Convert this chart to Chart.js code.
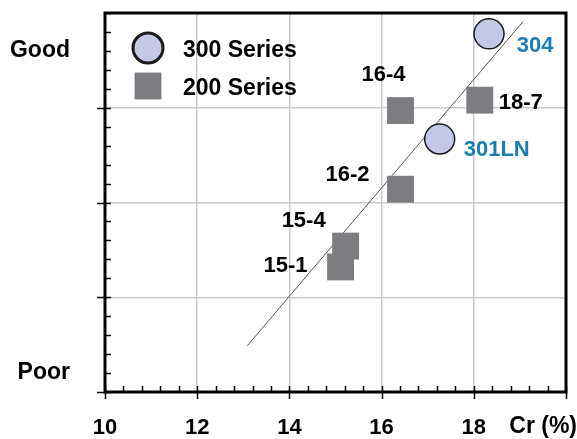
<!DOCTYPE html>
<html>
<head>
<meta charset="utf-8">
<script src="https://cdn.jsdelivr.net/npm/chart.js@4/dist/chart.umd.min.js"></script>
<style>
  html, body { margin: 0; padding: 0; background: #fff; }
  #wrap { width: 577px; height: 439px; }
</style>
</head>
<body>
<div id="wrap"><canvas id="chart" width="577" height="439"></canvas></div>
<script>
// data
const series300Names = ['304', '301LN'];
const series300Cr = [18.33, 17.26];
const series300Rating = [3.78, 2.67];

const series200Names = ['18-7', '16-4', '16-2', '15-4', '15-1'];
const series200Cr = [18.13, 16.41, 16.41, 15.22, 15.11];
const series200Rating = [3.08, 2.97, 2.14, 1.54, 1.32];

const trendCr = [13.09, 19.07];
const trendRating = [0.49, 3.91];

const xTickValues = [10, 12, 14, 16, 18];
const yTickLabels = { 'Good': 3.6, 'Poor': 0.2 };

const FONT = '"Liberation Sans", Arial, sans-serif';
const BLUE = '#1b7db0';

const toPts = (xs, ys) => xs.map((x, i) => ({ x: x, y: ys[i] }));

// label offsets (px) from each point
const labelOffsets300 = [[46, 12], [57, 11]];
const labelOffsets200 = [[41, 3], [-17, -36], [-53, -14], [-42, -25], [-55, -1]];

const framePlugin = {
  id: 'frame',
  afterDatasetsDraw(chart) {
    const ctx = chart.ctx;
    const a = chart.chartArea;
    const xs = chart.scales.x, ys = chart.scales.y;
    ctx.save();

    // minor / major ticks
    ctx.strokeStyle = '#000';
    ctx.lineWidth = 1.5;
    ctx.beginPath();
    for (let i = 0; i <= 20; i++) {
      const v = i * 0.2;
      const py = Math.round(ys.getPixelForValue(v)) + 0.5;
      const major = i % 5 === 0 && i < 20;
      ctx.moveTo(major ? a.left - 8 : a.left, py);
      ctx.lineTo(a.left + 6, py);
    }
    for (let i = 0; i <= 25; i++) {
      const v = 10 + i * 0.4;
      const px = Math.round(xs.getPixelForValue(v)) + 0.5;
      const major = i % 5 === 0;
      ctx.moveTo(px, a.bottom - 6);
      ctx.lineTo(px, major ? a.bottom + 7 : a.bottom);
    }
    ctx.stroke();

    // box
    ctx.lineWidth = 3;
    ctx.strokeRect(a.left, a.top, a.right - a.left, a.bottom - a.top);

    // point labels
    ctx.font = 'bold 22px ' + FONT;
    ctx.textAlign = 'center';
    ctx.textBaseline = 'middle';
    const drawLabels = (names, xsv, ysv, offs, color) => {
      ctx.fillStyle = color;
      names.forEach((n, i) => {
        const px = xs.getPixelForValue(xsv[i]);
        const py = ys.getPixelForValue(ysv[i]);
        ctx.fillText(n, px + offs[i][0], py + offs[i][1]);
      });
    };
    drawLabels(series300Names, series300Cr, series300Rating, labelOffsets300, BLUE);
    drawLabels(series200Names, series200Cr, series200Rating, labelOffsets200, '#000');

    // legend
    const ds = chart.data.datasets;
    ctx.font = 'bold 23px ' + FONT;
    ctx.textAlign = 'left';
    [0, 1].forEach(i => {
      const d = ds[i];
      const cx = a.left + 43;
      const cy = a.top + 35 + i * 38;
      ctx.fillStyle = d.backgroundColor;
      ctx.strokeStyle = d.borderColor;
      Chart.helpers.drawPoint(ctx, {
        pointStyle: d.pointStyle,
        radius: d.pointRadius,
        borderWidth: d.borderWidth,
        rotation: 0
      }, cx, cy);
      ctx.fillStyle = '#000';
      ctx.fillText(d.label, cx + 35, cy + 3);
    });

    // axis name
    ctx.font = 'bold 23px ' + FONT;
    ctx.textAlign = 'right';
    ctx.fillText('Cr (%)', 577, a.bottom + 35);
    ctx.restore();
  }
};

const isInt = v => Math.abs(v - Math.round(v)) < 1e-6;
const clear = 'rgba(0,0,0,0)';

new Chart(document.getElementById('chart'), {
  type: 'scatter',
  data: {
    datasets: [
      {
        label: '300 Series',
        data: toPts(series300Cr, series300Rating),
        pointStyle: 'circle',
        pointRadius: 15,
        pointHoverRadius: 15,
        backgroundColor: '#c3c8e6',
        borderColor: '#1a1a1a',
        borderWidth: 1.5,
        order: 1
      },
      {
        label: '200 Series',
        data: toPts(series200Cr, series200Rating),
        pointStyle: 'rect',
        pointRadius: 19,
        pointHoverRadius: 19,
        backgroundColor: '#7b7d80',
        borderColor: '#7b7d80',
        borderWidth: 0,
        order: 2
      },
      {
        type: 'line',
        label: 'trend',
        data: toPts(trendCr, trendRating),
        borderColor: '#555',
        borderWidth: 1,
        pointRadius: 0,
        fill: false,
        order: 3
      }
    ]
  },
  options: {
    responsive: false,
    animation: false,
    layout: { autoPadding: false, padding: { left: 0, right: 11, top: 13, bottom: 0 } },
    plugins: { legend: { display: false }, tooltip: { enabled: false } },
    scales: {
      x: {
        type: 'linear',
        min: 10,
        max: 20,
        afterFit: s => { s.height = 47; s.paddingLeft = 0; s.paddingRight = 0; },
        afterBuildTicks: s => { s.ticks = xTickValues.concat([20]).map(v => ({ value: v })); },
        ticks: {
          padding: 0,
          color: '#000',
          font: { family: FONT, size: 22, weight: 'bold' },
          callback: v => (v === 20 ? '' : v),
          maxRotation: 0
        },
        grid: {
          drawTicks: true,
          tickLength: 23,
          tickColor: clear,
          lineWidth: 1.5,
          color: ctx => (ctx.tick && ctx.tick.value > 10 && ctx.tick.value < 20 ? '#c9c9d4' : clear)
        },
        border: { display: false }
      },
      y: {
        type: 'linear',
        min: 0,
        max: 4,
        afterFit: s => { s.width = 105; s.paddingTop = 0; s.paddingBottom = 0; },
        ticks: {
          stepSize: 0.2,
          autoSkip: false,
          padding: 0,
          color: '#000',
          font: { family: FONT, size: 23, weight: 'bold' },
          callback: v => {
            for (const k in yTickLabels) {
              if (Math.abs(v - yTickLabels[k]) < 1e-6) return k;
            }
            return '';
          }
        },
        grid: {
          drawTicks: true,
          tickLength: 35,
          tickColor: clear,
          lineWidth: 1.5,
          color: ctx => (ctx.tick && isInt(ctx.tick.value) && ctx.tick.value > 0 && ctx.tick.value < 4 ? '#c9c9d4' : clear)
        },
        border: { display: false }
      }
    }
  },
  plugins: [framePlugin]
});
</script>
</body>
</html>
